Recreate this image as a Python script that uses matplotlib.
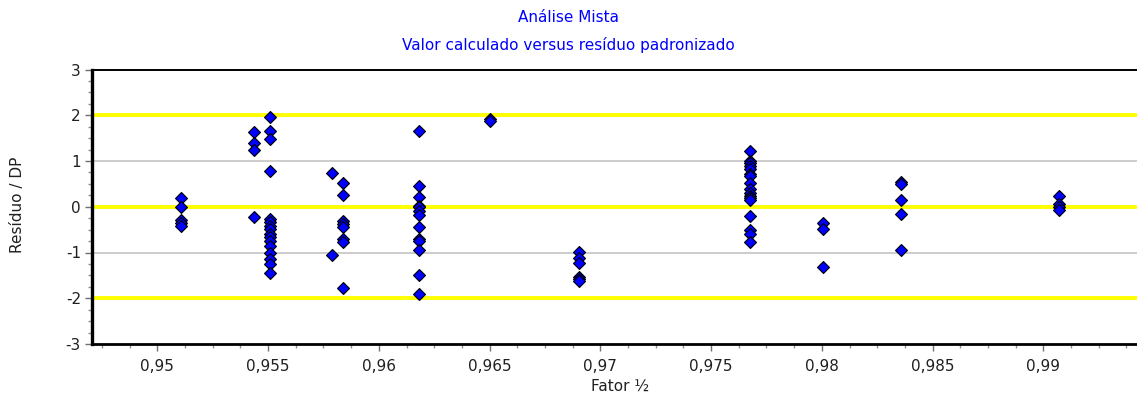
import matplotlib
matplotlib.use("Agg")
import matplotlib.pyplot as plt
from matplotlib.ticker import MultipleLocator, FuncFormatter

# Data: calculated value (Fator 1/2) vs standardized residual
x_col = [0.95107, 0.95438, 0.95509, 0.95787, 0.95840, 0.96183,
         0.96502, 0.96905, 0.97676, 0.98007, 0.98356, 0.99071]
y_col = [
    [0.20, 0.00, -0.30, -0.35, -0.42],
    [1.63, 1.39, 1.23, -0.22],
    [1.97, 1.66, 1.47, 0.79, -0.27, -0.34, -0.42, -0.49, -0.60, -0.67,
     -0.74, -0.85, -1.02, -1.14, -1.25, -1.44],
    [0.73, -1.05],
    [0.53, 0.26, -0.31, -0.38, -0.44, -0.71, -0.78, -1.77],
    [1.65, 0.46, 0.22, 0.02, -0.01, -0.09, -0.18, -0.45, -0.71, -0.74,
     -0.94, -1.50, -1.91],
    [1.92, 1.88],
    [-0.98, -1.11, -1.22, -1.53, -1.58, -1.62],
    [1.21, 1.00, 0.95, 0.90, 0.82, 0.71, 0.68, 0.53, 0.39, 0.31, 0.24,
     0.20, 0.15, -0.20, -0.51, -0.60, -0.76],
    [-0.36, -0.49, -1.31],
    [0.55, 0.50, 0.15, -0.15, -0.94],
    [0.24, 0.06, -0.01, -0.07],
]
limit_lines = [2, 0, -2]
grid_lines = [1, -1]

title1 = "Análise Mista"
title2 = "Valor calculado versus resíduo padronizado"
xlabel = "Fator ½"
ylabel = "Resíduo / DP"

plt.rcParams['font.family'] = ['DejaVu Sans']

fig = plt.figure(figsize=(11.37, 4.0), dpi=100)
ax = fig.add_axes([92 / 1137, 1 - 344 / 400, 1 - 92 / 1137, (344 - 69.5) / 400])

ax.set_xlim(0.94705, 0.99423)
ax.set_ylim(-3, 3)

for yv in grid_lines:
    ax.axhline(yv, color='#c8c8c8', lw=1.3, zorder=1)
for yv in limit_lines:
    ax.axhline(yv, color='#ffff00', lw=2.8, zorder=2)

xs, ys = [], []
for xv, vals in zip(x_col, y_col):
    for v in vals:
        xs.append(xv)
        ys.append(v)
ax.plot(xs, ys, linestyle='none', marker='D', ms=5.8, mfc='#0000ff',
        mec='black', mew=0.8, zorder=3, clip_on=False)

ax.xaxis.set_major_locator(MultipleLocator(0.005))
ax.xaxis.set_minor_locator(MultipleLocator(0.00125))
ax.yaxis.set_major_locator(MultipleLocator(1))
ax.yaxis.set_minor_locator(MultipleLocator(0.25))

def fmt_x(v, pos):
    s = ('%.3f' % v).rstrip('0').rstrip('.')
    return s.replace('.', ',')

ax.xaxis.set_major_formatter(FuncFormatter(fmt_x))
ax.yaxis.set_major_formatter(FuncFormatter(lambda v, p: '%d' % round(v)))

ax.tick_params(axis='both', which='major', direction='out', length=5,
               width=1, color='#707070', labelsize=11, labelcolor='#202020')
ax.tick_params(axis='both', which='minor', direction='out', length=3,
               width=1, color='#909090')
ax.tick_params(axis='x', which='major', pad=6)
ax.tick_params(axis='y', which='major', pad=3)

ax.spines['left'].set_linewidth(2.4)
ax.spines['bottom'].set_linewidth(2.0)
ax.spines['top'].set_linewidth(1.4)
ax.spines['right'].set_visible(False)
for s in ['left', 'bottom', 'top']:
    ax.spines[s].set_color('black')

fig.text(568 / 1137, 1 - 18 / 400, title1, color='#0000ff', fontsize=11,
         ha='center', va='center')
fig.text(568 / 1137, 1 - 45 / 400, title2, color='#0000ff', fontsize=11,
         ha='center', va='center')
fig.text(620 / 1137, 1 - 386 / 400, xlabel, color='#202020', fontsize=11,
         ha='center', va='center')
fig.text(18 / 1137, 1 - 205 / 400, ylabel, color='#202020', fontsize=11,
         ha='center', va='center', rotation=90)

fig.savefig('out.png', dpi=100)
